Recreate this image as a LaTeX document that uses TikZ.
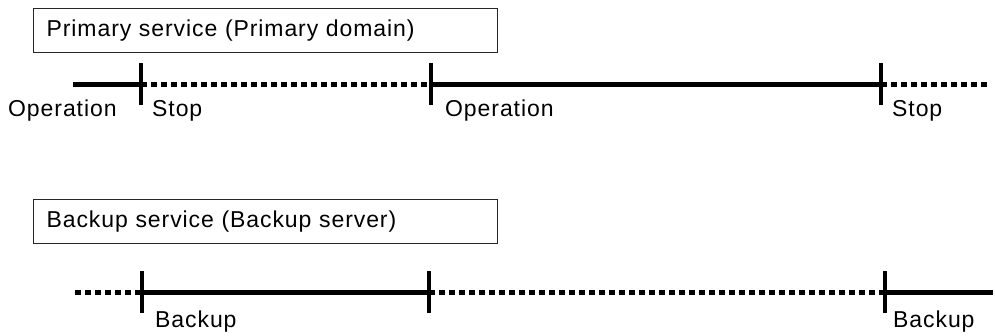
\documentclass[tikz,border=0pt]{standalone}
\usepackage{fontspec}
\setmainfont{Liberation Sans}[LetterSpace=4, WordSpace=1.4]
\usepackage{tikz}
\usetikzlibrary{positioning, calc}

\begin{document}
\begin{tikzpicture}[x=1pt, y=-1pt,
  titlebox/.style={draw=black!85, line width=1.2pt, anchor=north west,
    minimum width=464pt, minimum height=44pt, text width=438pt,
    inner xsep=13pt, align=left, font=\fontsize{23}{27}\selectfont},
  lbl/.style={anchor=base west, inner sep=0pt, font=\fontsize{23}{27}\selectfont},
  run/.style={line width=5pt},
  idle/.style={line width=5pt, dash pattern=on 6pt off 4pt},
  tickmark/.style={line width=4.5pt}]
  \useasboundingbox (0,0) rectangle (995,335);

  % primary service
  \node[titlebox] (prim) at (33,8) {Primary service (Primary domain)};
  \coordinate (a0) at (73,84);
  \coordinate (a1) at (141,84);
  \coordinate (a2) at (431,84);
  \coordinate (a3) at (881,84);
  \coordinate (a4) at (990,84);
  \draw[run] (a0) -- (a1);
  \draw[idle] (a1) -- (a2);
  \draw[run] (a2) -- (a3);
  \draw[idle] (a3) -- (a4);
  \foreach \p in {a1,a2,a3}
    \draw[tickmark] ([yshift=21pt]\p) -- ([yshift=-21pt]\p);
  \node[lbl] (op1) at (8,116) {Operation};
  \node[lbl] (st1) at (152,116) {Stop};
  \node[lbl] (op2) at (445,116) {Operation};
  \node[lbl] (st2) at (892,116) {Stop};

  % backup service
  \node[titlebox] (back) at (33,199) {Backup service (Backup server)};
  \coordinate (b0) at (75,292);
  \coordinate (b1) at (142,292);
  \coordinate (b2) at (429,292);
  \coordinate (b3) at (885,292);
  \coordinate (b4) at (993,292);
  \draw[idle] (b0) -- (b1);
  \draw[run] (b1) -- (b2);
  \draw[idle] (b2) -- (b3);
  \draw[run] (b3) -- (b4);
  \foreach \p in {b1,b2,b3}
    \draw[tickmark] ([yshift=21pt]\p) -- ([yshift=-21pt]\p);
  \node[lbl] (bk1) at (155,327) {Backup};
  \node[lbl] (bk2) at (893,327) {Backup};
\end{tikzpicture}
\end{document}
